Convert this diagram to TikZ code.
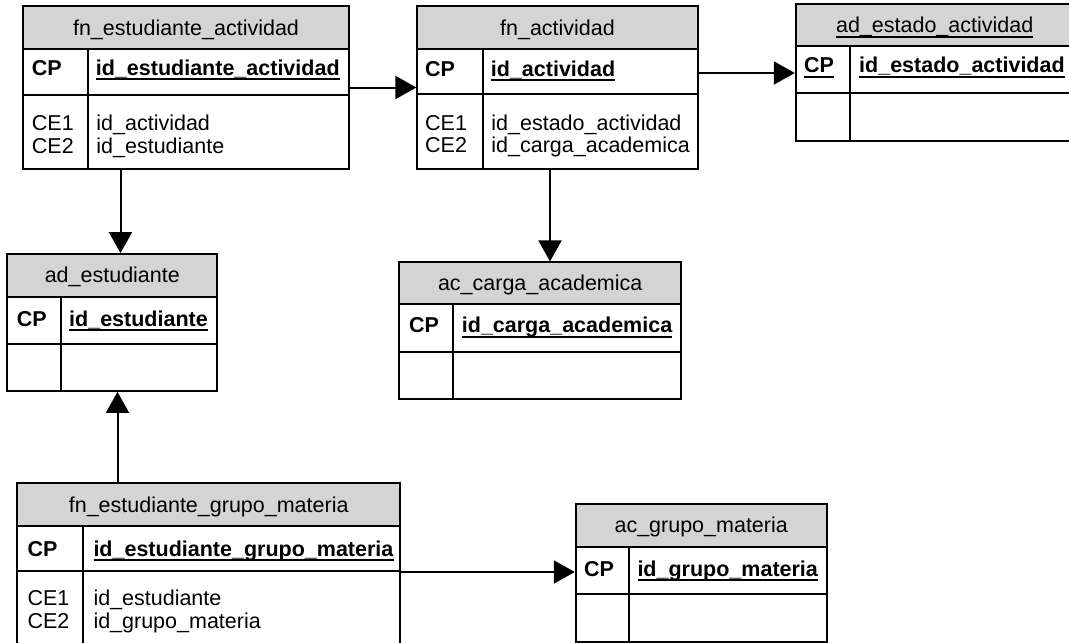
\documentclass[tikz,border=0pt]{standalone}
\usepackage{fontspec}
\setmainfont{Liberation Sans}
\usetikzlibrary{arrows.meta,fit}

\definecolor{hdrgray}{RGB}{212,212,212}
\newcommand\tabfont{\fontsize{21.5}{24}\selectfont}
% underline drawn a little below the baseline, over the underscores
\newcommand\ulfield[1]{\setbox0\hbox{#1}\rlap{\rule[-5pt]{\wd0}{1.8pt}}\box0}

% #1 name, #2 left, #3 right, #4 top, #5 header bottom, #6 key row bottom, #7 bottom, #8 divider x
\newcommand\ertable[8]{%
  \node[hdrbox, fit={(#2,#4) (#3,#5)}] (#1-h) {};
  \node[cellbox, fit={(#2,#5) (#3,#6)}] (#1-k) {};
  \node[cellbox, fit={(#2,#6) (#3,#7)}] (#1-b) {};
  \draw[tabrule] (#8,#5) -- (#8,#7);
}

\tikzset{
  hdrbox/.style={draw, fill=hdrgray, line width=1.8pt, inner sep=0pt},
  cellbox/.style={draw, fill=white, line width=1.8pt, inner sep=0pt},
  tabrule/.style={line width=1.8pt},
  ttl/.style={inner sep=0pt, anchor=base, font=\tabfont},
  txt/.style={inner sep=0pt, anchor=base west, font=\tabfont},
  fk/.style={line width=2pt, -{Triangle[length=21pt,width=23pt]}},
}

\begin{document}
\begin{tikzpicture}[x=1pt, y=-1pt]
\clip (0,0) rectangle (1069,643);
\fill[white] (0,0) rectangle (1069,643);

% fn_estudiante_actividad
\ertable{ea}{22.7}{349.3}{6}{49.3}{95}{169.3}{88.3}
\node[ttl] (ea-t) at (186,35) {fn\_estudiante\_actividad};
\node[txt] (ea-cp) at (31.7,75) {\textbf{CP}};
\node[txt] (ea-pk) at (95.7,75) {\ulfield{\textbf{id\_estudiante\_actividad}}};
\node[txt] (ea-c1) at (31.7,130) {CE1};
\node[txt] (ea-c2) at (31.7,153.3) {CE2};
\node[txt] (ea-f1) at (96.2,130) {id\_actividad};
\node[txt] (ea-f2) at (96.2,153.3) {id\_estudiante};

% fn_actividad
\ertable{ac}{417.3}{697.7}{6}{49.3}{94.3}{169.3}{482.7}
\node[ttl] (ac-t) at (557.5,35) {fn\_actividad};
\node[txt] (ac-cp) at (425,76) {\textbf{CP}};
\node[txt] (ac-pk) at (490.7,76) {\ulfield{\textbf{id\_actividad}}};
\node[txt] (ac-c1) at (425,130) {CE1};
\node[txt] (ac-c2) at (425,152.7) {CE2};
\node[txt] (ac-f1) at (491.2,130) {id\_estado\_actividad};
\node[txt] (ac-f2) at (491.2,152.7) {id\_carga\_academica};

% ad_estado_actividad
\ertable{es}{795.7}{1074}{4}{46}{93.3}{140.7}{850}
\node[ttl] (es-t) at (934.7,32.7) {\ulfield{ad\_estado\_actividad}};
\node[txt] (es-cp) at (804,72.7) {\ulfield{\textbf{CP}}};
\node[txt] (es-pk) at (859,72.7) {\ulfield{\textbf{id\_estado\_actividad}}};

% ad_estudiante
\ertable{st}{7.3}{217.3}{254}{296.7}{344}{391}{61}
\node[ttl] (st-t) at (112.3,282.7) {ad\_estudiante};
\node[txt] (st-cp) at (16.7,326) {\textbf{CP}};
\node[txt] (st-pk) at (69,326) {\ulfield{\textbf{id\_estudiante}}};

% ac_carga_academica
\ertable{ca}{399.3}{681}{262.3}{304.3}{351.7}{399}{453.3}
\node[ttl] (ca-t) at (540.2,290) {ac\_carga\_academica};
\node[txt] (ca-cp) at (409,332.7) {\textbf{CP}};
\node[txt] (ca-pk) at (461.7,332.7) {\ulfield{\textbf{id\_carga\_academica}}};

% fn_estudiante_grupo_materia
\ertable{eg}{17.3}{400}{483.3}{526}{570.7}{660}{82.7}
\node[ttl] (eg-t) at (208.7,512.3) {fn\_estudiante\_grupo\_materia};
\node[txt] (eg-cp) at (27.3,556) {\textbf{CP}};
\node[txt] (eg-pk) at (93.3,556) {\ulfield{\textbf{id\_estudiante\_grupo\_materia}}};
\node[txt] (eg-c1) at (27.3,605) {CE1};
\node[txt] (eg-c2) at (27.3,628.3) {CE2};
\node[txt] (eg-f1) at (93.3,605) {id\_estudiante};
\node[txt] (eg-f2) at (93.3,628.3) {id\_grupo\_materia};

% ac_grupo_materia
\ertable{gm}{575.7}{826.7}{504.3}{546.7}{594.3}{641.7}{629}
\node[ttl] (gm-t) at (701.2,532.7) {ac\_grupo\_materia};
\node[txt] (gm-cp) at (584,576) {\textbf{CP}};
\node[txt] (gm-pk) at (637.3,576) {\ulfield{\textbf{id\_grupo\_materia}}};

% connector levels
\coordinate (lvl-ea-ac) at (0,87.5);
\coordinate (lvl-ac-es) at (0,73);
\coordinate (lvl-eg-gm) at (0,572);
\coordinate (col-ea-st) at (120.5,0);
\coordinate (col-ac-ca) at (550,0);
\coordinate (col-eg-st) at (117.5,0);

% foreign keys
\draw[fk] (ea-k.east |- lvl-ea-ac) -- (ac-k.west |- lvl-ea-ac);
\draw[fk] (ac-k.east |- lvl-ac-es) -- (es-k.west |- lvl-ac-es);
\draw[fk] (col-ea-st |- ea-b.south) -- (col-ea-st |- st-h.north);
\draw[fk] (col-ac-ca |- ac-b.south) -- (col-ac-ca |- ca-h.north);
\draw[fk] (col-eg-st |- eg-h.north) -- (col-eg-st |- st-b.south);
\draw[fk] (eg-k.east |- lvl-eg-gm) -- (gm-k.west |- lvl-eg-gm);
\end{tikzpicture}
\end{document}
